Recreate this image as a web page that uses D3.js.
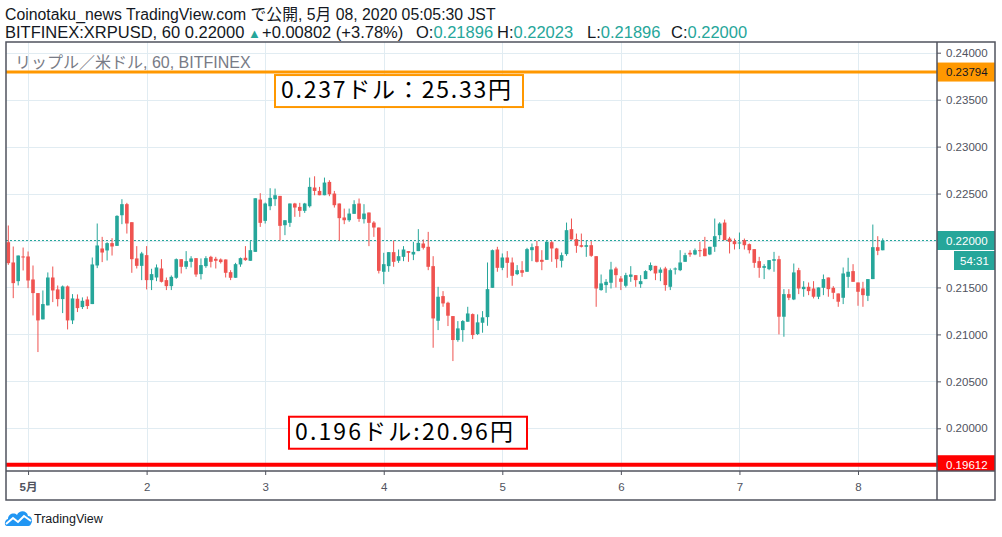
<!DOCTYPE html>
<html>
<head>
<meta charset="utf-8">
<script src="https://cdn.jsdelivr.net/npm/d3@7"></script>
<style>
  body { margin: 0; background: #fff; }
  svg { display: block; }
</style>
</head>
<body>
<svg id="chart" width="1002" height="537"></svg>
<script>
// hourly candles, BITFINEX XRP/USD, 30 Apr 20:00 -> 8 May 05:00
const opens = [
  .21982,.21766,.21567,.21830,.21830,.21585,.21440,.21160,.21309,.21606,
  .21479,.21376,.21511,.21149,.21380,.21291,.21372,.21323,.21734,.21915,
  .21894,.21972,.21943,.22269,.22387,.22195,.21809,.21730,.21844,.21578,
  .21606,.21702,.21578,.21514,.21603,.21801,.21720,.21773,.21812,.21642,
  .21727,.21826,.21805,.21798,.21798,.21663,.21603,.21745,.21816,.21784,
  .21879,.22436,.22209,.22365,.22440,.22475,.22163,.22188,.22394,.22358,
  .22316,.22365,.22564,.22528,.22482,.22624,.22500,.22394,.22245,.22216,
  .22284,.22394,.22227,.22298,.22191,.22138,.21667,.21727,.21876,.21784,
  .21826,.21887,.21851,.21887,.21968,.21933,.21727,.21145,.21408,.21337,
  .21195,.20940,.21046,.21135,.21216,.21004,.21124,.21184,.21496,.21904,
  .21709,.21819,.21766,.21642,.21684,.21667,.21897,.21940,.21794,.21794,
  .21982,.21915,.21784,.21855,.22121,.22014,.21950,.21933,.21950,.21833,
  .21472,.21525,.21550,.21702,.21596,.21518,.21613,.21631,.21535,.21589,
  .21684,.21730,.21656,.21702,.21507,.21691,.21684,.21773,.21869,.21851,
  .21897,.21915,.21851,.21933,.22057,.22191,.22021,.21993,.21968,.22004,
  .21961,.21908,.21780,.21709,.21695,.21784,.21801,.21188,.21429,.21372,
  .21684,.21482,.21507,.21489,.21401,.21496,.21606,.21496,.21436,.21390,
  .21613,.21674,.21553,.21489,.21411,.21589,.21929,.21896
];
const highs = [
  .22160,.21936,.21840,.21925,.21883,.21734,.21440,.21468,.21660,.21723,
  .21521,.21521,.21521,.21429,.21426,.21394,.21404,.21819,.22181,.22039,
  .21982,.22025,.22269,.22440,.22401,.22195,.21940,.21879,.21940,.21699,
  .21745,.21801,.21606,.21628,.21809,.21801,.21887,.21833,.21812,.21809,
  .21833,.21837,.21826,.21809,.21798,.21684,.21762,.21819,.21940,.21993,
  .22450,.22504,.22404,.22557,.22553,.22475,.22216,.22394,.22401,.22401,
  .22401,.22670,.22684,.22571,.22670,.22642,.22528,.22394,.22340,.22340,
  .22429,.22447,.22387,.22298,.22206,.22138,.21869,.21876,.22000,.21904,
  .21940,.21887,.21986,.22121,.22011,.22092,.21833,.21507,.21461,.21348,
  .21195,.21142,.21153,.21294,.21223,.21213,.21248,.21766,.21904,.21933,
  .21862,.21887,.21819,.21738,.21780,.21922,.21968,.21996,.21897,.22004,
  .21996,.21922,.21872,.22191,.22234,.22074,.22074,.22000,.21993,.21833,
  .21638,.21589,.21773,.21720,.21621,.21656,.21727,.21631,.21631,.21684,
  .21766,.21730,.21713,.21720,.21702,.21713,.21897,.21869,.21897,.21915,
  .21986,.22039,.21933,.22234,.22195,.22223,.22039,.22021,.22085,.22021,
  .21968,.21908,.21826,.21748,.21791,.21879,.21837,.21482,.21482,.21755,
  .21709,.21567,.21553,.21567,.21500,.21638,.21606,.21514,.21436,.21713,
  .21816,.21748,.21553,.21560,.21589,.22170,.22046,.22023
];
const lows = [
  .21741,.21386,.21521,.21681,.21493,.21202,.20812,.21160,.21309,.21344,
  .21298,.21227,.21053,.21110,.21238,.21270,.21270,.21323,.21706,.21770,
  .21787,.21840,.21943,.22174,.22074,.21656,.21702,.21578,.21479,.21472,
  .21567,.21553,.21472,.21472,.21592,.21649,.21695,.21713,.21613,.21585,
  .21709,.21713,.21702,.21755,.21606,.21578,.21603,.21720,.21784,.21784,
  .21879,.22145,.22181,.22323,.22369,.22000,.22057,.22145,.22252,.22252,
  .22294,.22351,.22482,.22482,.22482,.22472,.22351,.21996,.22174,.22199,
  .22284,.22199,.22181,.21940,.22039,.21649,.21535,.21667,.21720,.21762,
  .21780,.21773,.21791,.21887,.21904,.21684,.20858,.21046,.21294,.21089,
  .20716,.20922,.20922,.21135,.20950,.20993,.21018,.21092,.21496,.21667,
  .21684,.21603,.21518,.21631,.21613,.21667,.21780,.21766,.21684,.21794,
  .21773,.21709,.21713,.21837,.22011,.21869,.21926,.21826,.21826,.21294,
  .21465,.21443,.21489,.21500,.21472,.21500,.21560,.21507,.21496,.21589,
  .21674,.21578,.21567,.21465,.21472,.21638,.21674,.21773,.21826,.21844,
  .21826,.21833,.21844,.21879,.22011,.22004,.21862,.21904,.21908,.21904,
  .21862,.21709,.21603,.21589,.21684,.21667,.21000,.20975,.21365,.21365,
  .21429,.21401,.21418,.21383,.21376,.21418,.21401,.21376,.21294,.21323,
  .21496,.21560,.21305,.21294,.21355,.21589,.21844,.21896
];
const closes = [
  .21759,.21546,.21840,.21820,.21574,.21440,.21149,.21323,.21606,.21468,
  .21376,.21511,.21149,.21383,.21280,.21358,.21302,.21745,.21947,.21872,
  .21972,.21936,.22262,.22387,.22181,.21801,.21730,.21862,.21578,.21642,
  .21713,.21560,.21514,.21613,.21801,.21720,.21780,.21809,.21638,.21738,
  .21812,.21773,.21784,.21770,.21656,.21603,.21748,.21812,.21791,.21897,
  .22450,.22188,.22394,.22454,.22482,.22156,.22216,.22394,.22351,.22316,
  .22394,.22571,.22528,.22482,.22617,.22493,.22376,.22238,.22216,.22287,
  .22387,.22230,.22287,.22188,.22138,.21677,.21748,.21876,.21773,.21833,
  .21904,.21869,.21879,.21975,.21922,.21720,.21170,.21401,.21330,.21199,
  .20940,.21064,.21142,.21223,.20993,.21128,.21181,.21482,.21897,.21709,
  .21819,.21762,.21624,.21684,.21656,.21908,.21929,.21773,.21773,.21986,
  .21915,.21801,.21844,.22110,.22011,.21943,.21933,.21950,.21837,.21489,
  .21543,.21560,.21691,.21631,.21560,.21631,.21638,.21578,.21567,.21674,
  .21738,.21649,.21691,.21525,.21684,.21702,.21766,.21844,.21851,.21897,
  .21887,.21833,.21933,.22046,.22181,.22004,.21986,.21961,.21979,.21950,
  .21897,.21762,.21709,.21727,.21791,.21801,.21188,.21429,.21390,.21660,
  .21489,.21507,.21461,.21401,.21500,.21589,.21482,.21443,.21348,.21649,
  .21667,.21560,.21454,.21418,.21589,.21929,.21890,.22000
];

const dayLabels = ['5月', '2', '3', '4', '5', '6', '7', '8'];
const priceTicks = [0.200, 0.205, 0.210, 0.215, 0.220, 0.225, 0.230, 0.235, 0.240];
const levelHigh = 0.23794;
const levelLow = 0.19612;
const lastPrice = 0.22000;
const noteHigh = '0.237ドル：25.33円';
const noteLow = '0.196ドル:20.96円';

const firstBar = new Date(2020, 3, 30, 20);
const lastBar = new Date(2020, 4, 8, 5);

const up = '#26a69a';
const down = '#ef5350';
const gridColor = '#e1ecf2';
const axisColor = '#50535e';
const font = '"Liberation Sans", Arial, "Noto Sans CJK JP", sans-serif';

const plot = { left: 6, right: 937, top: 42, bottom: 471 };
const svg = d3.select('#chart').style('font-family', font);

const times = d3.timeHour.range(firstBar, d3.timeHour.offset(lastBar, 1));
const bars = times.map((t, i) => ({
  t, o: opens[i], h: highs[i], l: lows[i], c: closes[i]
}));

const x = d3.scaleTime().domain([firstBar, lastBar]).range([8.3, 882.7]);
const y = d3.scaleLinear().domain([0.20, 0.24]).range([428.3, 52.7]);
const days = d3.timeDay.range(new Date(2020, 4, 1), new Date(2020, 4, 9));

// grid
const grid = svg.append('g').attr('class', 'grid');
grid.selectAll('line.h')
  .data(priceTicks)
  .join('line')
  .attr('class', 'h')
  .attr('x1', plot.left).attr('x2', plot.right)
  .attr('y1', (d) => Math.round(y(d)) + 0.5).attr('y2', (d) => Math.round(y(d)) + 0.5)
  .attr('stroke', gridColor);
grid.selectAll('line.v')
  .data(days)
  .join('line')
  .attr('class', 'v')
  .attr('x1', (d) => Math.round(x(d)) + 0.5).attr('x2', (d) => Math.round(x(d)) + 0.5)
  .attr('y1', plot.top).attr('y2', plot.bottom)
  .attr('stroke', gridColor);

// last price dashed line
svg.append('line')
  .attr('x1', plot.left).attr('x2', plot.right)
  .attr('y1', y(lastPrice)).attr('y2', y(lastPrice))
  .attr('stroke', up)
  .attr('stroke-width', 1)
  .attr('stroke-dasharray', '2,2');

// level lines
svg.append('line')
  .attr('x1', plot.left).attr('x2', plot.right)
  .attr('y1', y(levelHigh)).attr('y2', y(levelHigh))
  .attr('stroke', '#ff9800').attr('stroke-width', 3);
svg.append('line')
  .attr('x1', plot.left).attr('x2', plot.right)
  .attr('y1', y(levelLow)).attr('y2', y(levelLow))
  .attr('stroke', '#ff0000').attr('stroke-width', 4);

// candles
const candles = svg.append('g').attr('class', 'candles');
const candle = candles.selectAll('g')
  .data(bars)
  .join('g')
  .attr('fill', (d) => (d.c >= d.o ? up : down));
candle.append('rect')
  .attr('x', (d) => x(d.t) - 0.5)
  .attr('width', 1)
  .attr('y', (d) => y(d.h))
  .attr('height', (d) => Math.max(1, y(d.l) - y(d.h)));
candle.append('rect')
  .attr('x', (d) => x(d.t) - 1.8)
  .attr('width', 3.6)
  .attr('y', (d) => y(Math.max(d.o, d.c)))
  .attr('height', (d) => Math.max(1, Math.abs(y(d.o) - y(d.c))));

// annotation boxes
function note(text, top, left, width, textWidth, color) {
  const g = svg.append('g');
  g.append('rect')
    .attr('x', left).attr('y', top)
    .attr('width', width).attr('height', 32)
    .attr('fill', '#fff')
    .attr('stroke', color).attr('stroke-width', 2);
  g.append('text')
    .attr('x', left + 6).attr('y', top + 23)
    .attr('font-family', '"Noto Sans CJK JP", sans-serif')
    .attr('font-size', 23)
    .attr('fill', '#000')
    .attr('textLength', textWidth)
    .attr('lengthAdjust', 'spacing')
    .text(text);
}
note(noteHigh, y(levelHigh) + 3, 275, 248, 230, '#ff9800');
note(noteLow, y(levelLow) - 48, 289, 238, 218, '#ff0000');

// legend in pane
svg.append('text')
  .attr('x', 15).attr('y', 68)
  .attr('font-size', 16)
  .attr('fill', '#787b86')
  .text('リップル／米ドル, 60, BITFINEX');

// price axis
const yAxis = svg.append('g')
  .attr('transform', `translate(${plot.right},0)`)
  .call(d3.axisRight(y).tickValues(priceTicks).tickFormat(d3.format('.5f'))
    .tickSize(4).tickPadding(5));
yAxis.select('.domain').remove();
yAxis.selectAll('line').attr('stroke', axisColor);
yAxis.selectAll('text')
  .attr('fill', axisColor)
  .attr('font-size', 11.5)
  .attr('font-family', font);

// time axis
const xAxis = svg.append('g')
  .attr('transform', `translate(0,${plot.bottom})`)
  .call(d3.axisBottom(x).tickValues(days).tickFormat((d, i) => dayLabels[i])
    .tickSize(4).tickPadding(8));
xAxis.select('.domain').remove();
xAxis.selectAll('line').attr('stroke', axisColor);
xAxis.selectAll('text')
  .attr('fill', axisColor)
  .attr('font-size', 11.5)
  .attr('font-family', font)
  .attr('font-weight', (d, i) => (i === 0 ? 'bold' : 'normal'));

// price tags on the scale
function tag(price, label, fill, color, left, height) {
  const cy = y(price);
  const top = cy - height / 2;
  const bottom = Math.min(cy + height / 2, plot.bottom);
  svg.append('rect')
    .attr('x', left).attr('y', top)
    .attr('width', 995 - left).attr('height', bottom - top)
    .attr('fill', fill);
  svg.append('text')
    .attr('x', left === plot.right ? 946 : left + 7).attr('y', cy)
    .attr('dy', '0.35em')
    .attr('font-size', 11.5)
    .attr('fill', color)
    .text(label);
}
tag(levelHigh, d3.format('.5f')(levelHigh), '#ff9800', '#131722', plot.right, 19);
tag(lastPrice, d3.format('.5f')(lastPrice), up, '#fff', plot.right, 19);
svg.append('rect')
  .attr('x', 954).attr('y', y(lastPrice) + 10.5)
  .attr('width', 41).attr('height', 19)
  .attr('fill', up);
svg.append('text')
  .attr('x', 960).attr('y', y(lastPrice) + 20)
  .attr('dy', '0.35em')
  .attr('font-size', 11.5)
  .attr('fill', '#fff')
  .text('54:31');
tag(levelLow, d3.format('.5f')(levelLow), '#ff0000', '#fff', plot.right, 19);

// frame
const frame = svg.append('g').attr('stroke', axisColor).attr('stroke-width', 1.5).attr('fill', 'none');
frame.append('rect').attr('x', 6).attr('y', 42).attr('width', 989).attr('height', 458);
frame.append('line').attr('x1', plot.right).attr('x2', plot.right).attr('y1', 42).attr('y2', 500);
frame.append('line').attr('x1', 6).attr('x2', 995).attr('y1', plot.bottom).attr('y2', plot.bottom);

// header
svg.append('text')
  .attr('x', 5).attr('y', 20)
  .attr('font-size', 15.8)
  .attr('fill', '#131722')
  .text('Coinotaku_news TradingView.com で公開, 5月 08, 2020 05:05:30 JST');

const infoParts = [
  { x: 5, parts: [['BITFINEX:XRPUSD, 60 0.22000', null]] },
  { x: 248, size: 13, parts: [['▲', up]] },
  { x: 262, parts: [['+0.00802 (+3.78%)', null]] },
  { x: 416, parts: [['O:', null], ['0.21896', up]] },
  { x: 497, parts: [['H:', null], ['0.22023', up]] },
  { x: 587, parts: [['L:', null], ['0.21896', up]] },
  { x: 671, parts: [['C:', null], ['0.22000', up]] }
];
const info = svg.append('text')
  .attr('y', 38)
  .attr('font-size', 16.5)
  .attr('fill', '#131722');
infoParts.forEach((seg) => {
  seg.parts.forEach(([txt, color], k) => {
    const ts = info.append('tspan').text(txt);
    if (k === 0) ts.attr('x', seg.x);
    if (color) ts.attr('fill', color);
    if (seg.size) ts.attr('font-size', seg.size);
  });
});

// logo
const logo = svg.append('g').attr('transform', 'translate(5,509)');
logo.append('path')
  .attr('d', 'M2,17 C-1,17 -1,11 3,10 C3,5 9,3 12,6 C14,1 22,1 23,7 C27,7 28,12 26,15 C25,17 24,17 22,17 Z')
  .attr('fill', '#2196f3');
logo.append('polyline')
  .attr('points', '1,15 8,9 13,13 19,7 26,12')
  .attr('fill', 'none').attr('stroke', '#fff').attr('stroke-width', 2);
svg.append('text')
  .attr('x', 34).attr('y', 523)
  .attr('font-size', 12.5)
  .attr('fill', '#131722')
  .text('TradingView');
</script>
</body>
</html>
